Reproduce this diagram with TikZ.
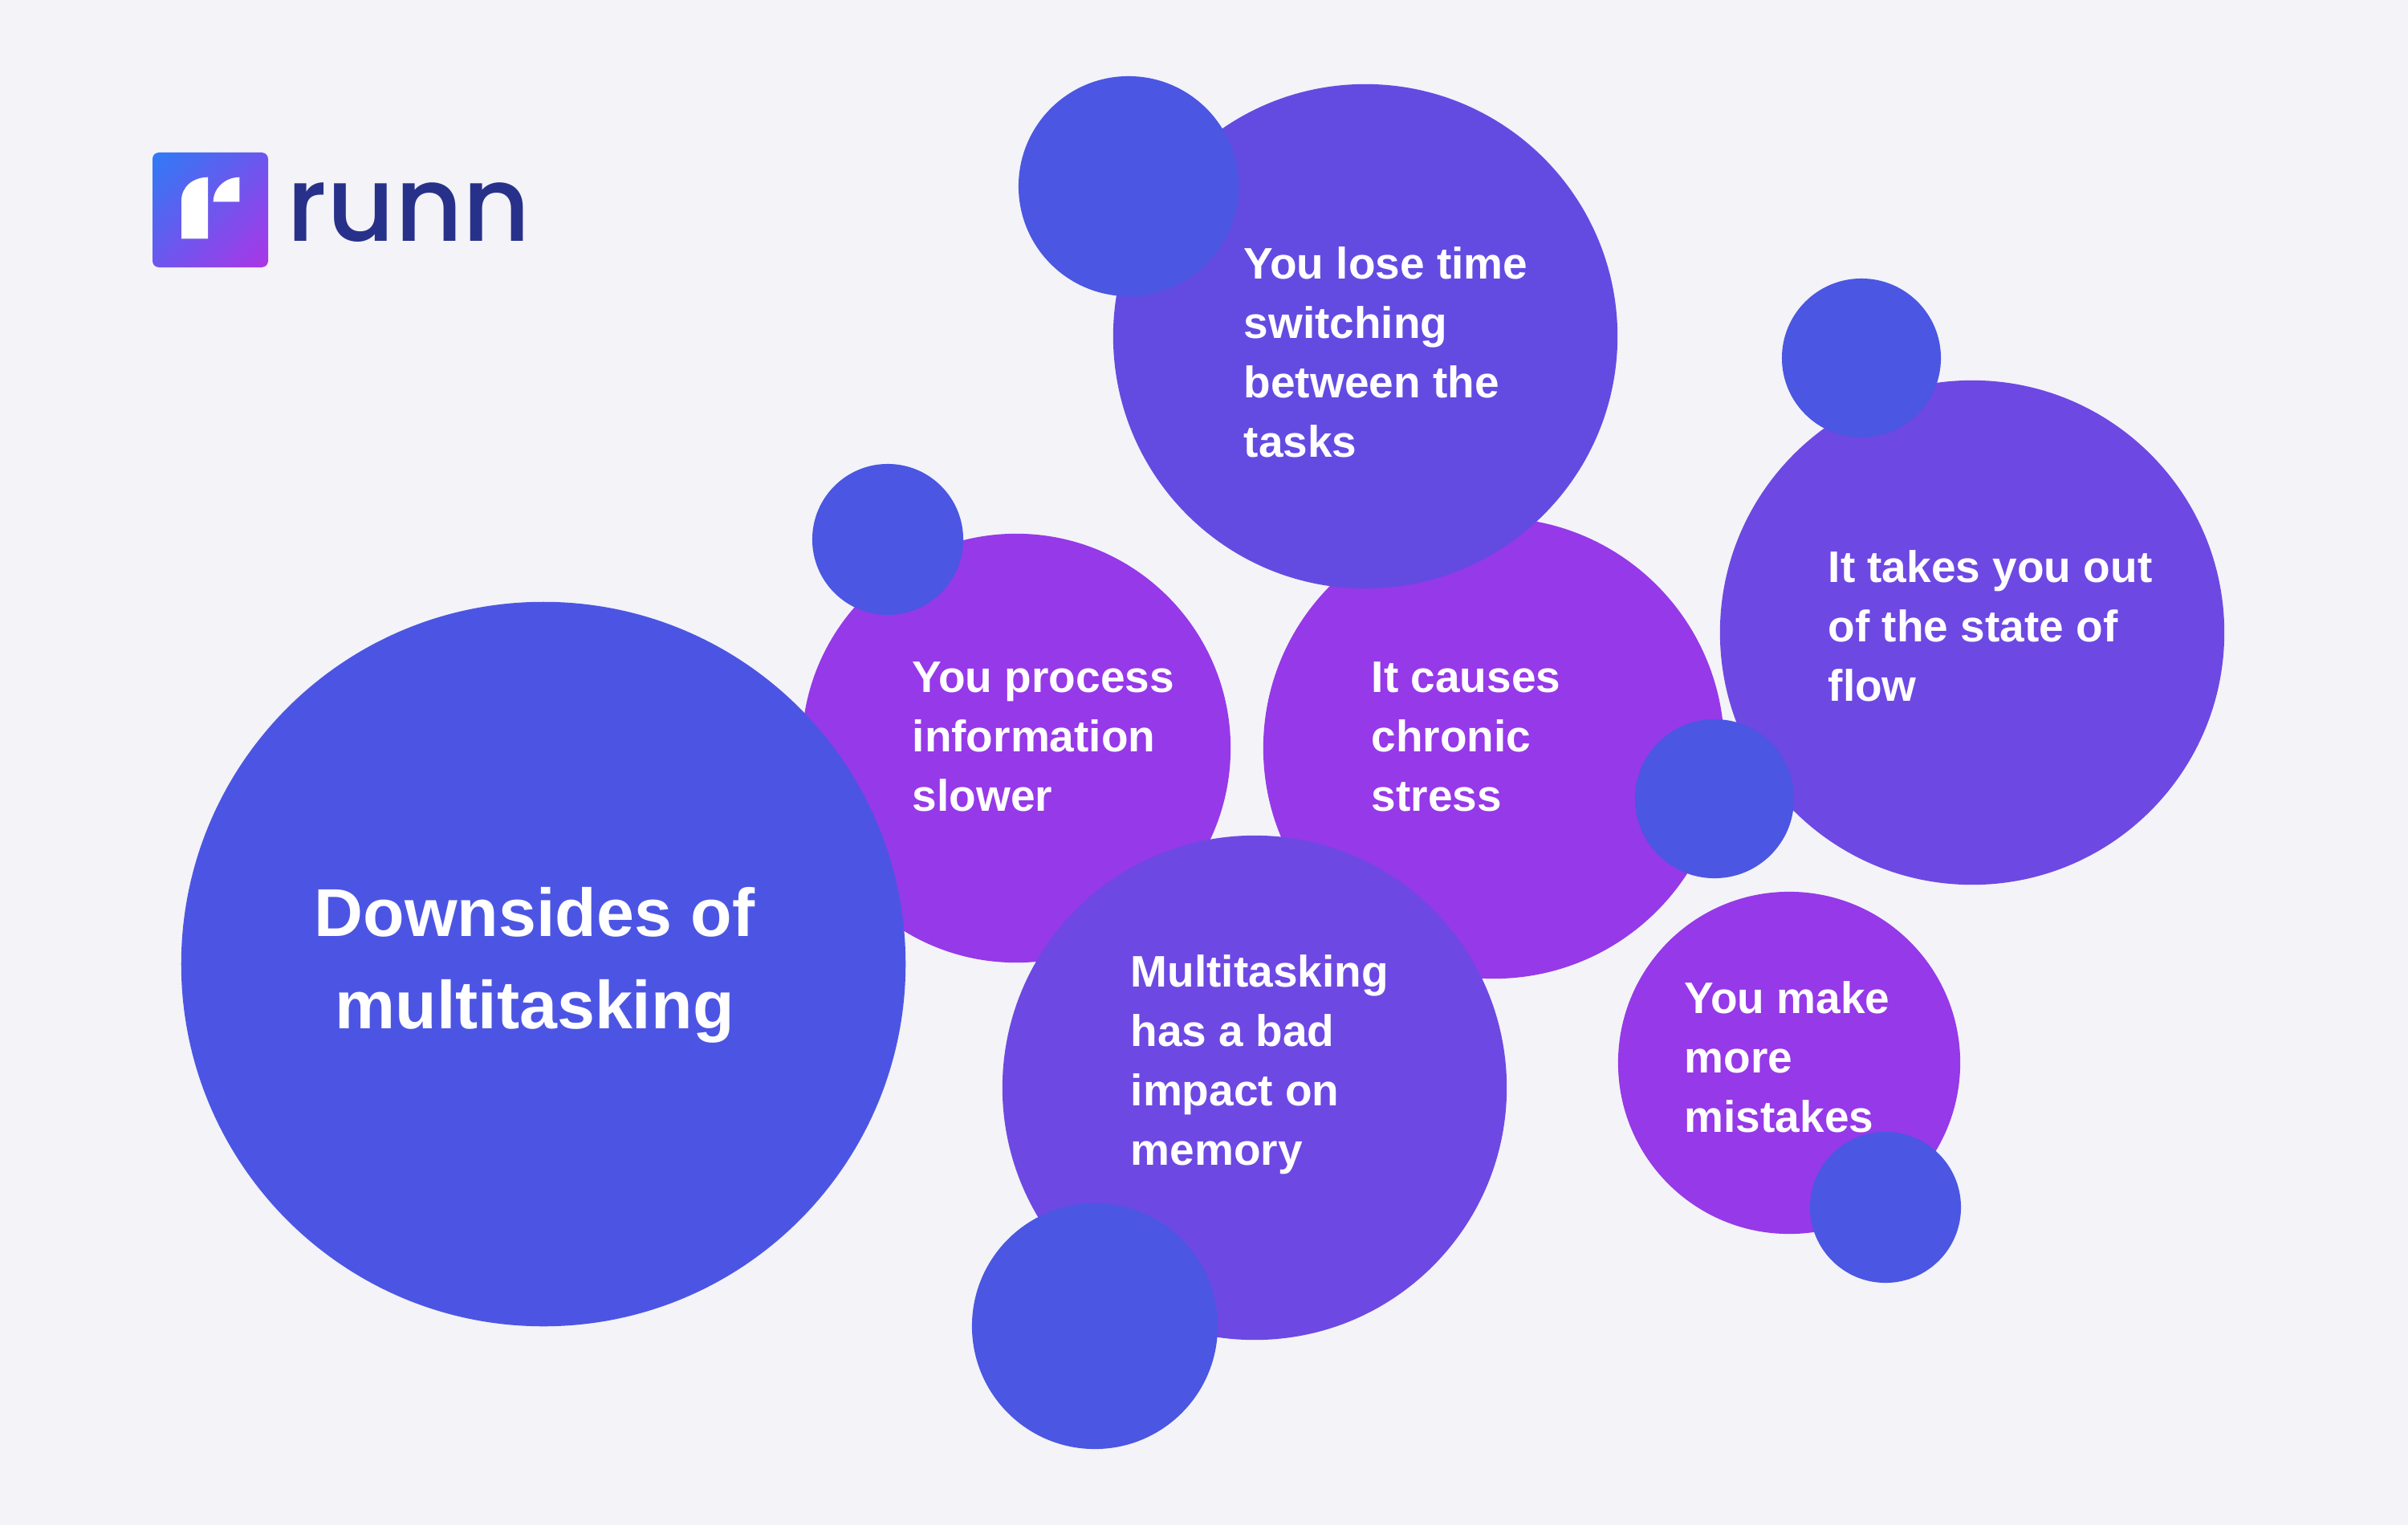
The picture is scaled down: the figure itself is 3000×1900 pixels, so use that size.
\documentclass[tikz,border=0pt]{standalone}
\usepackage{fontspec}
\usetikzlibrary{shadings}
\setmainfont{Liberation Sans}[BoldFont={Liberation Sans Bold}]
\newfontfamily\logofont{Poppins Medium}
\definecolor{bgc}{HTML}{F3F3F8}
\definecolor{blueA}{HTML}{4C55E3}
\definecolor{blueB}{HTML}{4B56E2}
\definecolor{violetA}{HTML}{634BE2}
\definecolor{violetB}{HTML}{6E48E3}
\definecolor{purpleA}{HTML}{9639E8}
\definecolor{navy}{HTML}{283189}
\definecolor{logoTL}{HTML}{2F7BF5}
\definecolor{logoMid}{HTML}{6C56EE}
\definecolor{logoBR}{HTML}{AC36E6}
\tikzset{
  disc/.style={circle,inner sep=0pt,draw=none,fill=#1},
  lbl/.style={text=white,anchor=north west,inner sep=0pt,align=left,font=\fontsize{15.65}{21.05}\selectfont\bfseries},
  title/.style={text=white,anchor=north,inner sep=0pt,align=center,font=\fontsize{24}{32.7}\selectfont\bfseries}
}
\begin{document}
\begin{tikzpicture}[x=0.01cm,y=-0.01cm]
\useasboundingbox (0,0) rectangle (3000,1900);
\fill[bgc] (0,0) rectangle (3000,1900);
% logo
\shade[rounded corners=0.08cm,upper left=logoTL,upper right=logoMid,lower left=logoMid,lower right=logoBR]
  (190,190) rectangle (334,333);
\fill[white] (226,297.3) -- (226,250) .. controls (226,233) and (240,221) .. (259,220.7) -- (259,297.3) -- cycle;
\fill[white] (265.7,251.3) .. controls (265.7,235) and (280,221) .. (298.3,220.7) -- (298.3,251.3) -- cycle;
\node[anchor=base west,inner sep=0pt,text=navy,font=\fontsize{37}{37}\logofont] (logo) at (357,300.3) {runn};
% big circles
\node[disc=purpleA,minimum size=5.34cm] (process) at (1266,932) {};
\node[disc=purpleA,minimum size=5.74cm] (stress) at (1861,932) {};
\node[disc=purpleA,minimum size=4.26cm] (mistakes) at (2229,1324) {};
\node[disc=blueA,minimum size=9.02cm] (main) at (677,1201) {};
\node[disc=violetA,minimum size=6.28cm] (lose) at (1701,419) {};
\node[disc=violetB,minimum size=6.28cm] (flow) at (2457,788) {};
\node[disc=violetB,minimum size=6.28cm] (memory) at (1563,1355) {};
% small circles
\node[disc=blueB,minimum size=2.74cm] (dotA) at (1406,232) {};
\node[disc=blueB,minimum size=1.98cm] (dotB) at (2319,446) {};
\node[disc=blueB,minimum size=1.88cm] (dotC) at (1106,672) {};
\node[disc=blueB,minimum size=1.98cm] (dotD) at (2136,995) {};
\node[disc=blueB,minimum size=1.88cm] (dotE) at (2349,1504) {};
\begin{scope}
\clip (0,0) rectangle (3000,1805);
\node[disc=blueB,minimum size=3.06cm] (dotF) at (1364,1652) {};
\end{scope}
% texts
\node[title] (tmain) at (666,1085) {\strut Downsides of\\multitasking};
\node[lbl] (tlose) at (1549,295) {\strut You lose time\\switching\\between the\\tasks};
\node[lbl] (tflow) at (2277,673) {\strut It takes you out\\of the state of\\flow};
\node[lbl] (tprocess) at (1136,810) {\strut You process\\information\\slower};
\node[lbl] (tstress) at (1708,810) {\strut It causes\\chronic\\stress};
\node[lbl] (tmemory) at (1408,1177) {\strut Multitasking\\has a bad\\impact on\\memory};
\node[lbl] (tmistakes) at (2098,1210) {\strut You make\\more\\mistakes};
\end{tikzpicture}
\end{document}
